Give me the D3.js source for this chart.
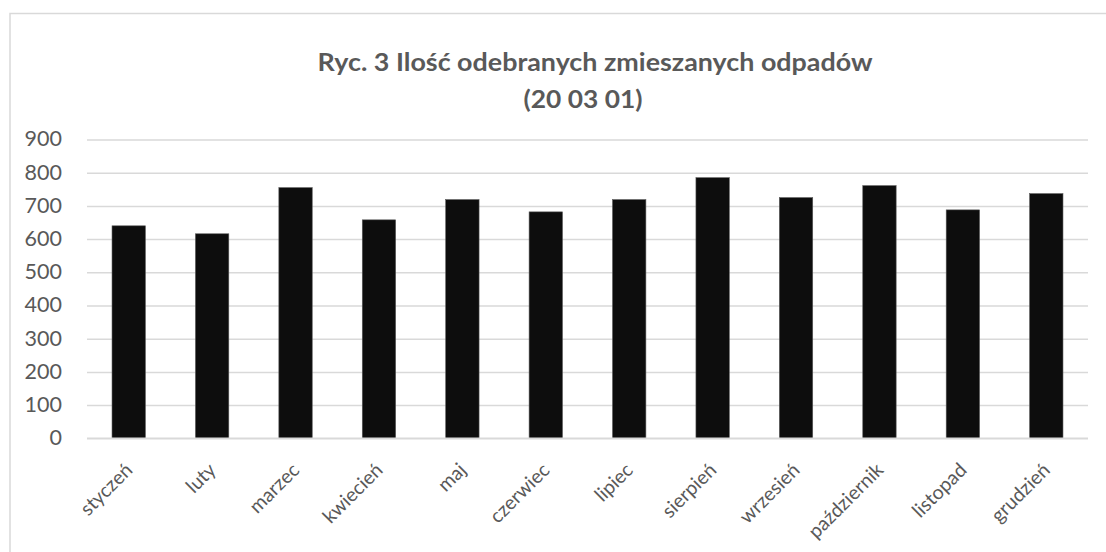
<!DOCTYPE html>
<html><head><meta charset="utf-8">
<script src="https://cdn.jsdelivr.net/npm/d3@7"></script>
<style>
html,body{margin:0;padding:0;background:#fff;}
svg{display:block;}
</style></head>
<body>
<svg id="chart" width="1106" height="552"></svg>
<script>
const months = ["styczeń","luty","marzec","kwiecień","maj","czerwiec","lipiec","sierpień","wrzesień","październik","listopad","grudzień"];
const values = [640, 616, 755, 658, 719, 682, 719, 785, 725, 761, 688, 737];
const yTicks = [0,100,200,300,400,500,600,700,800,900];
const titleLines = ["Ryc. 3 Ilość odebranych zmieszanych odpadów", "(20 03 01)"];

const svg = d3.select("#chart");
const font = "Lato, 'Open Sans', sans-serif";

// chart border
svg.append("rect").attr("x",10).attr("y",13.5).attr("width",1200).attr("height",600)
  .attr("fill","#fff").attr("stroke","#d9d9d9").attr("stroke-width",1.5);

const plot = {left:87, right:1088, top:139.5, bottom:438.3};
const x = d3.scaleBand().domain(months).range([plot.left, plot.right]).paddingInner(0.6).paddingOuter(0.3);
const y = d3.scaleLinear().domain([0,900]).range([plot.bottom, plot.top]);

// gridlines
const grid = d3.axisLeft(y).tickValues(yTicks).tickSize(-(plot.right-plot.left)).tickFormat("");
svg.append("g").attr("transform",`translate(${plot.left},0)`).call(grid)
  .call(g=>g.select(".domain").remove())
  .call(g=>g.selectAll("line").attr("stroke","#d9d9d9").attr("stroke-width",1.5));

// y labels
const yAxis = d3.axisLeft(y).tickValues(yTicks).tickSize(0).tickPadding(25);
svg.append("g").attr("transform",`translate(${plot.left},0)`).call(yAxis)
  .call(g=>g.select(".domain").remove())
  .call(g=>g.selectAll("text").attr("fill","#595959").attr("font-size","21.5px").attr("font-family",font).attr("dy","0.3em"));

// bars
svg.append("g").selectAll("rect").data(values).join("rect")
  .attr("x",(d,i)=>x(months[i]))
  .attr("y",d=>y(d))
  .attr("width",x.bandwidth())
  .attr("height",d=>y(0)-y(d))
  .attr("fill","#0d0d0d")
  .attr("stroke","#595959").attr("stroke-width",0.6);

// x axis
const xAxis = d3.axisBottom(x).tickSize(0).tickPadding(0);
svg.append("g").attr("transform",`translate(0,${plot.bottom})`).call(xAxis)
  .call(g=>g.select(".domain").attr("stroke","#d9d9d9").attr("stroke-width",1.5).attr("d",`M${plot.left},0H${plot.right}`))
  .call(g=>g.selectAll(".tick text")
    .attr("fill","#595959").attr("font-size","19.5px").attr("font-family",font)
    .attr("text-anchor","end").attr("dy",0).attr("y",0)
    .attr("transform","translate(5,33) rotate(-45)"));

// title
const title = svg.append("g").attr("fill","#595959").attr("font-family",font).attr("font-weight","bold");
title.append("text").attr("x",595).attr("y",71).attr("text-anchor","middle").attr("font-size","24px")
  .attr("textLength",555).attr("lengthAdjust","spacingAndGlyphs").text(titleLines[0]);
title.append("text").attr("x",583).attr("y",108).attr("text-anchor","middle").attr("font-size","24px")
  .attr("textLength",119).attr("lengthAdjust","spacingAndGlyphs").text(titleLines[1]);
</script>
</body></html>
